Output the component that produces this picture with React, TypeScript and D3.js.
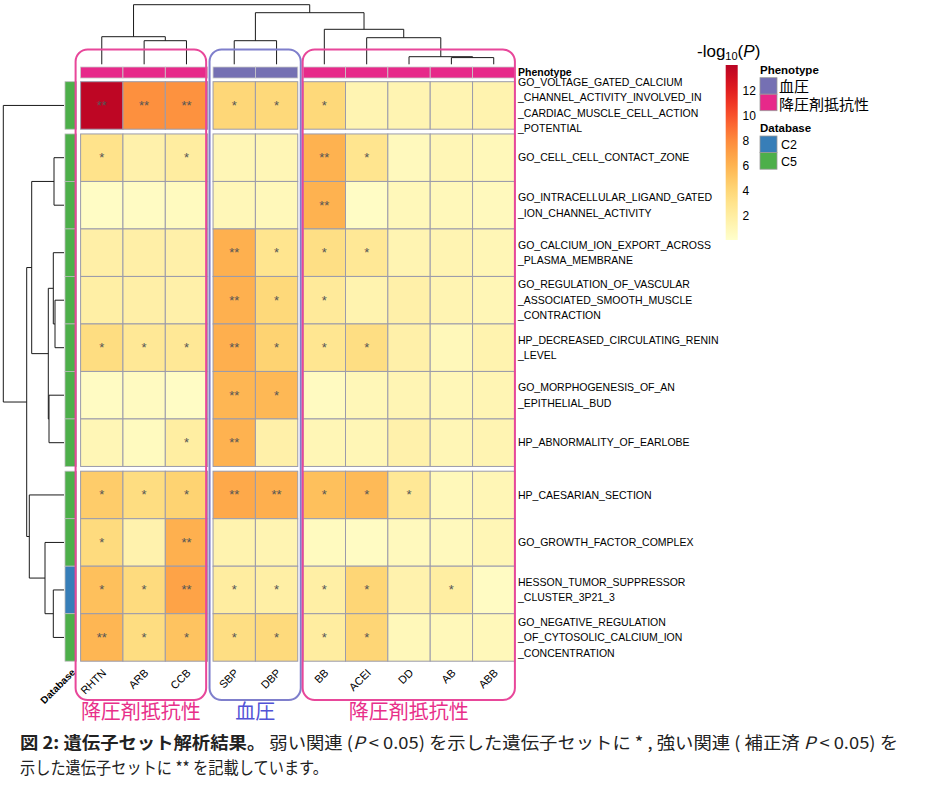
import React from "react";
import * as d3 from "d3";

// ---------------- DATA ----------------
const columns = ["RHTN", "ARB", "CCB", "SBP", "DBP", "BB", "ACEI", "DD", "AB", "ABB"];
const columnGroups = [0, 0, 0, 1, 1, 2, 2, 2, 2, 2];
const columnPhenotype = ["降圧剤抵抗性", "降圧剤抵抗性", "降圧剤抵抗性", "血圧", "血圧", "降圧剤抵抗性", "降圧剤抵抗性", "降圧剤抵抗性", "降圧剤抵抗性", "降圧剤抵抗性"];
const groupTitles = ["降圧剤抵抗性", "血圧", "降圧剤抵抗性"];

const rowLabels = [
  ["GO_VOLTAGE_GATED_CALCIUM", "_CHANNEL_ACTIVITY_INVOLVED_IN", "_CARDIAC_MUSCLE_CELL_ACTION", "_POTENTIAL"],
  ["GO_CELL_CELL_CONTACT_ZONE"],
  ["GO_INTRACELLULAR_LIGAND_GATED", "_ION_CHANNEL_ACTIVITY"],
  ["GO_CALCIUM_ION_EXPORT_ACROSS", "_PLASMA_MEMBRANE"],
  ["GO_REGULATION_OF_VASCULAR", "_ASSOCIATED_SMOOTH_MUSCLE", "_CONTRACTION"],
  ["HP_DECREASED_CIRCULATING_RENIN", "_LEVEL"],
  ["GO_MORPHOGENESIS_OF_AN", "_EPITHELIAL_BUD"],
  ["HP_ABNORMALITY_OF_EARLOBE"],
  ["HP_CAESARIAN_SECTION"],
  ["GO_GROWTH_FACTOR_COMPLEX"],
  ["HESSON_TUMOR_SUPPRESSOR", "_CLUSTER_3P21_3"],
  ["GO_NEGATIVE_REGULATION", "_OF_CYTOSOLIC_CALCIUM_ION", "_CONCENTRATION"],
];
const rowGroups = [0, 1, 1, 1, 1, 1, 1, 1, 2, 2, 2, 2];
const rowDatabase = ["C5", "C5", "C5", "C5", "C5", "C5", "C5", "C5", "C5", "C5", "C2", "C5"];

// -log10(P)
const logP = [
  [13.8, 7.7, 7.6, 3.9, 3.8, 3.8, 1.2, 1.2, 1.2, 1.3],
  [3.0, 1.5, 2.0, 1.0, 1.0, 6.0, 2.8, 0.7, 1.0, 0.8],
  [0.3, 0.4, 0.6, 0.9, 0.8, 6.0, 0.3, 0.8, 0.8, 0.7],
  [1.7, 1.7, 1.6, 6.1, 2.8, 3.3, 2.5, 1.2, 1.2, 1.0],
  [1.8, 1.7, 1.6, 6.1, 3.8, 2.3, 1.3, 1.6, 1.2, 1.0],
  [3.5, 2.5, 2.5, 6.2, 4.2, 2.7, 3.4, 1.6, 0.8, 1.3],
  [0.4, 0.5, 0.3, 5.8, 5.7, 0.5, 0.9, 1.1, 0.9, 1.1],
  [1.0, 0.6, 1.9, 6.0, 1.6, 1.0, 1.0, 1.5, 1.0, 1.2],
  [4.6, 3.5, 4.2, 6.5, 6.2, 5.3, 5.6, 2.5, 0.8, 1.0],
  [3.6, 1.4, 6.1, 1.3, 1.2, 0.6, 0.4, 0.7, 0.7, 1.0],
  [5.3, 3.6, 6.8, 2.0, 1.8, 1.8, 4.0, 1.4, 1.9, 0.4],
  [5.8, 3.5, 5.1, 3.4, 3.7, 2.0, 4.0, 0.8, 0.8, 0.8],
];
// 0 none, 1 "*", 2 "**"
const significance = [
  [2, 2, 2, 1, 1, 1, 0, 0, 0, 0],
  [1, 0, 1, 0, 0, 2, 1, 0, 0, 0],
  [0, 0, 0, 0, 0, 2, 0, 0, 0, 0],
  [0, 0, 0, 2, 1, 1, 1, 0, 0, 0],
  [0, 0, 0, 2, 1, 1, 0, 0, 0, 0],
  [1, 1, 1, 2, 1, 1, 1, 0, 0, 0],
  [0, 0, 0, 2, 1, 0, 0, 0, 0, 0],
  [0, 0, 1, 2, 0, 0, 0, 0, 0, 0],
  [1, 1, 1, 2, 2, 1, 1, 1, 0, 0],
  [1, 0, 2, 0, 0, 0, 0, 0, 0, 0],
  [1, 1, 2, 1, 1, 1, 1, 0, 1, 0],
  [2, 1, 1, 1, 1, 1, 1, 0, 0, 0],
];

// hclust-style merges: negative = leaf (-(index+1)), positive = earlier merge step (1-based)
const colMerge = [[-9, -10], [-8, 1], [-2, -3], [-4, -5], [-7, 2], [-1, 3], [-6, 5], [4, 7], [6, 8]];
const colHeights = [6.7, 7.6, 23.6, 23.6, 26.6, 27.6, 35, 51.6, 59.6];
const rowMerge = [[-5, -6], [-2, -3], [-4, 1], [-11, -12], [-7, -8], [3, 5], [-10, 4], [2, 6], [-9, 7], [8, 9], [-1, 10]];
const rowHeights = [9, 10, 10.7, 10.7, 15, 15.7, 19, 32.3, 34.7, 37.3, 60.7];

const legendTicks = [2, 4, 6, 8, 10, 12];
const phenotypeLegend = ["血圧", "降圧剤抵抗性"];
const databaseLegend = ["C2", "C5"];

// ---------------- STYLE ----------------
const SANS = "'Liberation Sans', Arial, sans-serif";
const CJK = "'Noto Sans CJK JP', 'Noto Sans CJK SC', sans-serif";
const phenoColor: Record<string, string> = { "血圧": "#7570b3", "降圧剤抵抗性": "#e7298a" };
const dbColor: Record<string, string> = { C2: "#377eb8", C5: "#4daf4a" };
const boxColors = ["#e8479a", "#7f7fcc", "#e8479a"];
const titleColors = ["#e8308a", "#5252d6", "#e8308a"];

function dendroPaths(
  merge: number[][],
  heights: number[],
  leafPos: (i: number) => number,
  pt: (pos: number, h: number) => [number, number]
) {
  const pos: number[] = [];
  const hgt: number[] = [];
  const out: string[] = [];
  const get = (r: number): [number, number] => (r < 0 ? [leafPos(-r - 1), 0] : [pos[r - 1], hgt[r - 1]]);
  merge.forEach(([a, b], k) => {
    const [pa, ha] = get(a);
    const [pb, hb] = get(b);
    const h = heights[k];
    const p = d3.path();
    p.moveTo(...pt(pa, ha));
    p.lineTo(...pt(pa, h));
    p.lineTo(...pt(pb, h));
    p.lineTo(...pt(pb, hb));
    out.push(p.toString());
    pos[k] = (pa + pb) / 2;
    hgt[k] = h;
  });
  return out;
}

export default function App() {
  const W = 925;
  const H = 805;

  // column geometry
  const cellW = 42.35;
  const colGap = 5.4;
  const colIdx = d3.scaleLinear().domain([0, 1]).range([80.6, 80.6 + cellW]);
  const colX = (i: number) => colIdx(i) + columnGroups[i] * colGap;
  const colC = (i: number) => colX(i) + cellW / 2;

  // row geometry
  const rowH = 47.5;
  const rowGap = 4.75;
  const rowIdx = d3.scaleLinear().domain([0, 1]).range([81.7, 81.7 + rowH]);
  const rowY = (j: number) => rowIdx(j) + rowGroups[j] * rowGap;
  const rowC = (j: number) => rowY(j) + rowH / 2;

  const color = d3.scaleSequential(d3.interpolateYlOrRd).domain([0, 16]);

  const topH = d3.scaleLinear().domain([0, d3.max(colHeights) as number]).range([64.3, 4.7]);
  const leftH = d3.scaleLinear().domain([0, d3.max(rowHeights) as number]).range([64, 3.3]);
  const topPaths = dendroPaths(colMerge, colHeights, colC, (p, h) => [p, topH(h)]);
  const leftPaths = dendroPaths(rowMerge, rowHeights, rowC, (p, h) => [leftH(h), p]);

  const legendY = d3.scaleLinear().domain([0, 14]).range([240, 65]);
  const gradStops = d3.range(0, 14.01, 1);

  // groups of columns
  const groups = [0, 1, 2].map((g) => {
    const idx = columns.map((_, i) => i).filter((i) => columnGroups[i] === g);
    return { l: colX(idx[0]), r: colX(idx[idx.length - 1]) + cellW };
  });
  const boxPad = [
    [-5, -1.5],
    [-3.5, 3],
    [-0.5, 0],
  ];

  const phenoY0 = 67;
  const phenoH = 11;
  const dbX0 = 65;
  const dbW = 11.5;

  return (
    <svg
      width={W}
      height={H}
      viewBox={`0 0 ${W} ${H}`}
      style={{ position: "absolute", left: 0, top: 0, background: "#fff" }}
    >
      <defs>
        <linearGradient id="lgd" x1="0" y1="1" x2="0" y2="0">
          {gradStops.map((v) => (
            <stop key={v} offset={`${(v / 14) * 100}%`} stopColor={color(v)} />
          ))}
        </linearGradient>
      </defs>
      <rect x={0} y={0} width={W} height={H} fill="#fff" />

      {/* dendrograms */}
      <g fill="none" stroke="#1a1a1a" strokeWidth={1}>
        {topPaths.map((d, i) => (
          <path key={"t" + i} d={d} />
        ))}
        {leftPaths.map((d, i) => (
          <path key={"l" + i} d={d} />
        ))}
      </g>

      {/* phenotype annotation */}
      {columns.map((c, i) => (
        <rect
          key={"ph" + c}
          x={colX(i)}
          y={phenoY0}
          width={cellW}
          height={phenoH}
          fill={phenoColor[columnPhenotype[i]]}
          stroke="#c8c8c8"
          strokeWidth={0.8}
        />
      ))}
      <text x={518} y={75.5} fontFamily={SANS} fontSize={10.5} fontWeight="bold" fill="#000">
        Phenotype
      </text>

      {/* database annotation */}
      {rowLabels.map((_, j) => (
        <rect
          key={"db" + j}
          x={dbX0}
          y={rowY(j)}
          width={dbW}
          height={rowH}
          fill={dbColor[rowDatabase[j]]}
          stroke="#bbbbbb"
          strokeWidth={0.8}
        />
      ))}

      {/* heatmap cells */}
      {logP.map((row, j) =>
        row.map((v, i) => (
          <rect
            key={`c${j}-${i}`}
            x={colX(i)}
            y={rowY(j)}
            width={cellW}
            height={rowH}
            fill={color(v)}
            stroke="#9b9bab"
            strokeWidth={1}
          />
        ))
      )}
      {significance.map((row, j) =>
        row.map((s, i) =>
          s > 0 ? (
            <text
              key={`s${j}-${i}`}
              x={colC(i)}
              y={rowC(j) + 4.5}
              textAnchor="middle"
              fontFamily={SANS}
              fontSize={13}
              fill="#555"
            >
              {s === 2 ? "**" : "*"}
            </text>
          ) : null
        )
      )}

      {/* row labels */}
      {rowLabels.map((lines, j) =>
        lines.map((t, k) => (
          <text
            key={`rl${j}-${k}`}
            x={518}
            y={rowC(j) + (k - (lines.length - 1) / 2) * 15.5 + 3.7}
            fontFamily={SANS}
            fontSize={10.5}
            fill="#000"
          >
            {t}
          </text>
        ))
      )}

      {/* column labels */}
      {columns.map((c, i) => {
        const lx = colC(i) + 5;
        const ly = 673.5;
        return (
          <text
            key={"cl" + c}
            x={lx}
            y={ly}
            transform={`rotate(-45 ${lx} ${ly})`}
            textAnchor="end"
            fontFamily={SANS}
            fontSize={11}
            fill="#000"
          >
            {c}
          </text>
        );
      })}
      <text
        x={76}
        y={673}
        transform="rotate(-45 76 673)"
        textAnchor="end"
        fontFamily={SANS}
        fontSize={10}
        fontWeight="bold"
        fill="#000"
      >
        Database
      </text>

      {/* group boxes */}
      {groups.map((g, k) => (
        <rect
          key={"box" + k}
          x={g.l + boxPad[k][0]}
          y={49.5}
          width={g.r + boxPad[k][1] - (g.l + boxPad[k][0])}
          height={650.5}
          rx={12}
          ry={12}
          fill="none"
          stroke={boxColors[k]}
          strokeWidth={2}
        />
      ))}
      {groups.map((g, k) => (
        <text
          key={"gt" + k}
          x={(g.l + boxPad[k][0] + g.r + boxPad[k][1]) / 2}
          y={719}
          textAnchor="middle"
          fontFamily={CJK}
          fontSize={20}
          fill={titleColors[k]}
        >
          {groupTitles[k]}
        </text>
      ))}

      {/* color legend */}
      <text x={697} y={57} fontFamily={SANS} fontSize={17} fill="#000">
        -log
        <tspan fontSize={11} dy={2.5}>
          10
        </tspan>
        <tspan dy={-2.5}>(</tspan>
        <tspan fontStyle="italic">P</tspan>)
      </text>
      <rect x={725.7} y={legendY(14)} width={12} height={legendY(0) - legendY(14)} fill="url(#lgd)" />
      {legendTicks.map((t) => (
        <text key={"lt" + t} x={742.5} y={legendY(t) + 4.5} fontFamily={SANS} fontSize={12} fill="#000">
          {t}
        </text>
      ))}

      {/* annotation legends */}
      <text x={760} y={73.5} fontFamily={SANS} fontSize={11.5} fontWeight="bold" fill="#000">
        Phenotype
      </text>
      {phenotypeLegend.map((p, k) => (
        <g key={"pl" + p}>
          <rect x={760} y={77.7 + k * 16.5} width={17} height={16.5} fill={phenoColor[p]} stroke="#9a9a9a" strokeWidth={0.8} />
          <text x={779} y={92.3 + k * 18} fontFamily={CJK} fontSize={15} fill="#000">
            {p}
          </text>
        </g>
      ))}
      <text x={760} y={132} fontFamily={SANS} fontSize={11.5} fontWeight="bold" fill="#000">
        Database
      </text>
      {databaseLegend.map((d, k) => (
        <g key={"dl" + d}>
          <rect x={760} y={136 + k * 16.6} width={17} height={16.6} fill={dbColor[d]} stroke="#9a9a9a" strokeWidth={0.8} />
          <text x={781} y={149 + k * 16.6} fontFamily={SANS} fontSize={12.5} fill="#000">
            {d}
          </text>
        </g>
      ))}

      {/* caption */}
      <text x={20} y={749} fontFamily={CJK} fontSize={17} fill="#222" textLength={878} lengthAdjust="spacingAndGlyphs">
        <tspan fontWeight="bold">図 2: 遺伝子セット解析結果。</tspan> 弱い関連 (<tspan fontStyle="italic">P</tspan> &lt; 0.05) を示した遺伝子セットに * , 強い関連 ( 補正済 <tspan fontStyle="italic">P</tspan> &lt; 0.05) を
      </text>
      <text x={20} y={774} fontFamily={CJK} fontSize={17} fill="#222" textLength={308} lengthAdjust="spacingAndGlyphs">
        示した遺伝子セットに ** を記載しています。
      </text>
    </svg>
  );
}
